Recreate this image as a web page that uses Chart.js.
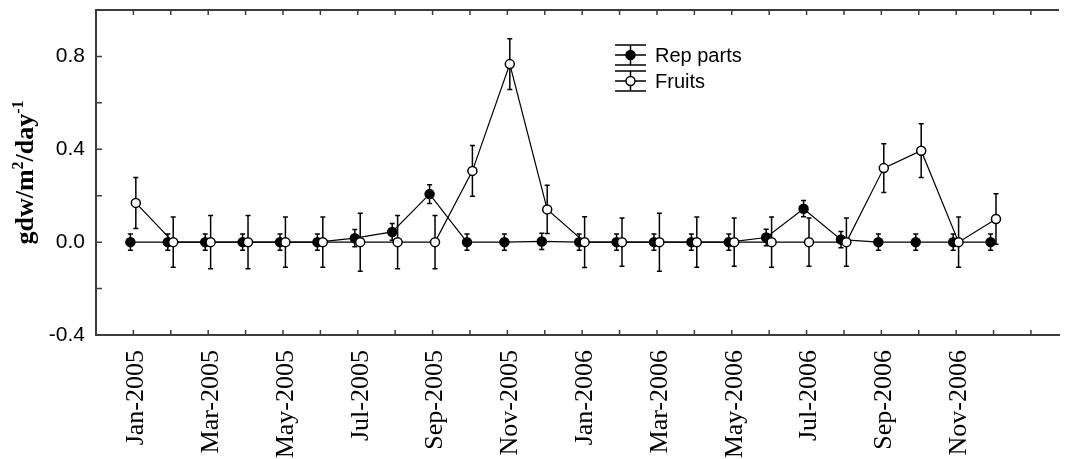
<!DOCTYPE html>
<html><head><meta charset="utf-8">
<script src="https://cdn.jsdelivr.net/npm/chart.js@4/dist/chart.umd.min.js"></script>
<style>html,body{margin:0;padding:0;background:#fff}#wrap{width:1065px;height:459px;position:relative}canvas{display:block}</style>
</head><body><div id="wrap"><canvas id="c" width="1065" height="459" style="width:1065px;height:459px"></canvas></div>
<script>
// Month index: 0 = Jan-2005 ... 23 = Dec-2006
const months = [0,1,2,3,4,5,6,7,8,9,10,11,12,13,14,15,16,17,18,19,20,21,22,23];
const repParts    = [0,0,0,0,0,0,0.017,0.044,0.207,0,0,0.003,0,0,0,0,0,0.02,0.144,0.011,0,0,0,0];
const repPartsErr = [0.035,0.035,0.035,0.035,0.035,0.035,0.037,0.036,0.04,0.035,0.035,0.035,0.035,0.035,0.035,0.035,0.035,0.036,0.035,0.035,0.035,0.035,0.035,0.035];
const fruits      = [0.169,0,0,0,0,0,0,0,0,0.307,0.767,0.141,0,0,0,0,0,0,0,0,0.319,0.394,0,0.1];
const fruitsErr   = [0.11,0.108,0.115,0.115,0.108,0.108,0.125,0.115,0.115,0.109,0.109,0.104,0.109,0.104,0.125,0.108,0.104,0.108,0.104,0.104,0.105,0.116,0.108,0.109];
const repOffset = -0.08, fruitOffset = 0.065; // sampling day within month
const xTickMonths = [0,1,2,3,4,5,6,7,8,9,10,11,12,13,14,15,16,17,18,19,20,21,22,23,24];
const xLabelMonths = [0,2,4,6,8,10,12,14,16,18,20,22];
const xLabels = ['Jan-2005','Mar-2005','May-2005','Jul-2005','Sep-2005','Nov-2005','Jan-2006','Mar-2006','May-2006','Jul-2006','Sep-2006','Nov-2006'];
const yTicks = [-0.4,-0.2,0,0.2,0.4,0.6,0.8];
const yLabelTicks = [-0.4,0,0.4,0.8];
const seriesNames = ['Rep parts','Fruits'];

const AX = '#3c3c3c';

const errorBars = {
  id:'errorBars',
  beforeDatasetsDraw(chart){
    const ctx = chart.ctx, ys = chart.scales.y;
    const errs = [repPartsErr, fruitsErr], vals = [repParts, fruits];
    ctx.save();
    ctx.strokeStyle = '#000'; ctx.lineWidth = 1.5;
    chart.data.datasets.forEach((ds, di) => {
      const meta = chart.getDatasetMeta(di);
      meta.data.forEach((pt, i) => {
        const hi = ys.getPixelForValue(vals[di][i] + errs[di][i]);
        const lo = ys.getPixelForValue(vals[di][i] - errs[di][i]);
        const x = pt.x;
        ctx.beginPath();
        ctx.moveTo(x, hi); ctx.lineTo(x, lo);
        ctx.moveTo(x-2.5, hi); ctx.lineTo(x+2.5, hi);
        ctx.moveTo(x-2.5, lo); ctx.lineTo(x+2.5, lo);
        ctx.stroke();
      });
    });
    ctx.restore();
  }
};

const frame = {
  id:'frame',
  afterDraw(chart){
    const ctx = chart.ctx, a = chart.chartArea, xs = chart.scales.x, ys = chart.scales.y;
    ctx.save();
    ctx.strokeStyle = AX; ctx.lineWidth = 2;
    ctx.beginPath(); ctx.moveTo(a.left-1, a.top); ctx.lineTo(a.right, a.top); ctx.stroke();
    ctx.lineWidth = 1.5;
    ctx.beginPath();
    xTickMonths.forEach(m => {
      const x = xs.getPixelForValue(m);
      ctx.moveTo(x, a.bottom); ctx.lineTo(x, a.bottom-5);
      ctx.moveTo(x, a.top); ctx.lineTo(x, a.top+5);
    });
    yTicks.forEach(v => {
      const y = ys.getPixelForValue(v);
      ctx.moveTo(a.left, y); ctx.lineTo(a.left+6, y);
    });
    ctx.stroke();

    // y axis title with superscripts
    const big = 'bold 26px "Liberation Serif", "Times New Roman", serif';
    const small = 'bold 16px "Liberation Serif", "Times New Roman", serif';
    const parts = [['gdw/m', big, 0], ['2', small, -10], ['/day', big, 0], ['-1', small, -10]];
    let total = 0;
    parts.forEach(p => { ctx.font = p[1]; total += ctx.measureText(p[0]).width; });
    ctx.translate(33, (a.top + a.bottom)/2);
    ctx.rotate(-Math.PI/2);
    ctx.fillStyle = '#000'; ctx.textBaseline = 'alphabetic'; ctx.textAlign = 'left';
    let px = -total/2;
    parts.forEach(p => { ctx.font = p[1]; ctx.fillText(p[0], px, p[2]); px += ctx.measureText(p[0]).width; });
    ctx.restore();

    // legend
    ctx.save();
    const lx0 = 615, lx1 = 646, cx = 630.5;
    const rows = [{y:55, fill:'#000'}, {y:81, fill:'#fff'}];
    rows.forEach((r, i) => {
      ctx.strokeStyle = '#000'; ctx.lineWidth = 1.5;
      ctx.beginPath();
      ctx.moveTo(lx0, r.y); ctx.lineTo(lx1, r.y);
      ctx.moveTo(lx0, r.y-10); ctx.lineTo(lx1, r.y-10);
      ctx.moveTo(lx0, r.y+10); ctx.lineTo(lx1, r.y+10);
      ctx.moveTo(cx, r.y-10); ctx.lineTo(cx, r.y+10);
      ctx.stroke();
      ctx.beginPath(); ctx.arc(cx, r.y, 4.5, 0, Math.PI*2);
      ctx.fillStyle = r.fill; ctx.fill(); ctx.stroke();
      ctx.fillStyle = '#000';
      ctx.font = '20px "Liberation Sans", Arial, sans-serif';
      ctx.textBaseline = 'middle'; ctx.textAlign = 'left';
      ctx.fillText(seriesNames[i], 655, r.y+1);
    });
    ctx.restore();
  }
};

new Chart(document.getElementById('c'), {
  type:'line',
  data:{
    datasets:[
      {label:seriesNames[0], order:1, data: months.map((m,i)=>({x:m+repOffset, y:repParts[i]})),
       borderColor:'#000', borderWidth:1.2, pointRadius:4.5, pointBorderWidth:1.5,
       pointBackgroundColor:'#000', pointBorderColor:'#000', tension:0},
      {label:seriesNames[1], order:0, data: months.map((m,i)=>({x:m+fruitOffset, y:fruits[i]})),
       borderColor:'#000', borderWidth:1.2, pointRadius:4.5, pointBorderWidth:1.5,
       pointBackgroundColor:'#fff', pointBorderColor:'#000', tension:0}
    ]
  },
  options:{
    responsive:false, animation:false, devicePixelRatio:1,
    layout:{padding:{top:10, right:1, left:0, bottom:0}},
    plugins:{legend:{display:false}, tooltip:{enabled:false}},
    scales:{
      x:{type:'linear', min:-1, max:24.75,
        afterBuildTicks(s){ s.ticks = xTickMonths.map(v=>({value:v})); },
        afterFit(s){ s.height = 124; s.paddingLeft = 0; s.paddingRight = 0; },
        grid:{display:false, drawTicks:false},
        border:{display:true, color:AX, width:2},
        ticks:{autoSkip:false, maxRotation:90, minRotation:90, padding:15, labelOffset:3,
          color:'#000', font:{family:'"Liberation Serif", "Times New Roman", serif', size:26},
          callback(v){ const k = xLabelMonths.indexOf(v); return k>=0 ? xLabels[k] : ''; }}
      },
      y:{type:'linear', min:-0.4, max:1.0,
        afterBuildTicks(s){ s.ticks = yTicks.map(v=>({value:v})); },
        afterFit(s){ s.width = 96; s.paddingTop = 0; s.paddingBottom = 0; },
        grid:{display:false, drawTicks:false},
        border:{display:true, color:AX, width:2},
        ticks:{padding:11, color:'#000', font:{family:'"Liberation Sans", Arial, sans-serif', size:21},
          callback(v){ return yLabelTicks.some(t=>Math.abs(t-v)<1e-6) ? v.toFixed(1) : ''; }}
      }
    }
  },
  plugins:[errorBars, frame]
});
</script>
</body></html>
